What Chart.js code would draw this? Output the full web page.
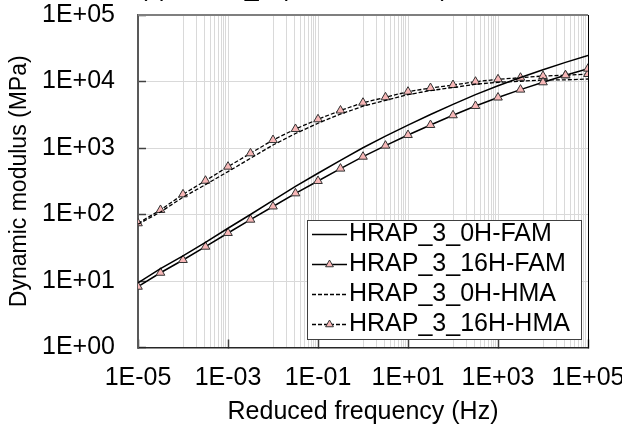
<!DOCTYPE html>
<html>
<head>
<meta charset="utf-8">
<script src="https://cdn.jsdelivr.net/npm/chart.js@4.4.1/dist/chart.umd.min.js"></script>
<style>
    html, body { margin: 0; padding: 0; background: #fff; overflow: hidden; }
    /* canvas sobe 26px para o título ficar cortado como na figura */
    #wrap { position: absolute; left: 0; top: -26px; width: 622px; height: 459px; }
</style>
</head>
<body>
<div id="wrap"><canvas id="chartModulo"></canvas></div>
<script>
const FONT = '"Liberation Sans", Arial, sans-serif';

const frequencias = [1e-5, 3.16e-5, 1e-4, 3.16e-4, 1e-3, 3.16e-3, 1e-2, 3.16e-2, 1e-1, 3.16e-1,
    1, 3.16, 10, 31.6, 100, 316, 1000, 3160, 1e4, 3.16e4, 1e5];

const fam0H = [9.4, 15.3, 23.9, 38.2, 62.1, 100, 163, 264, 417, 653,
    1009, 1507, 2213, 3192, 4539, 6339, 8610, 11510, 15030, 19410, 24720];
const fam16H = [8.2, 13.3, 20.7, 32.8, 52.7, 83.6, 132, 208, 319, 490,
    740, 1084, 1567, 2218, 3105, 4285, 5741, 7551, 9727, 12390, 15600];
const hma0H = [71.3, 109, 182, 281, 441, 700, 1109, 1652, 2355, 3243,
    4246, 5212, 6339, 7311, 8110, 9100, 9727, 10090, 10540, 10590, 10910];
const hma16H = [73.8, 117, 201, 322, 524, 832, 1318, 1932, 2704, 3664,
    4797, 5781, 7031, 7980, 8851, 9931, 10790, 11400, 12100, 12390, 12970];

const seriesNomes = ['HRAP_3_0H-FAM', 'HRAP_3_16H-FAM', 'HRAP_3_0H-HMA', 'HRAP_3_16H-HMA'];

const xTickValues = [1e-5, 1e-3, 1e-1, 1e1, 1e3, 1e5];
const xTickLabels = ['1E-05', '1E-03', '1E-01', '1E+01', '1E+03', '1E+05'];
const xMinorDecades = [1e-4, 1e-2, 1, 1e2, 1e4];
const yTickValues = [1, 10, 100, 1000, 10000, 100000];
const yTickLabels = ['1E+00', '1E+01', '1E+02', '1E+03', '1E+04', '1E+05'];

function mesmoValor(a, b) {
    return Math.abs(Math.log10(a) - Math.log10(b)) < 1e-6;
}

// linhas de grade secundárias (1..9 x década) como no Excel
let xGrade = xTickValues.slice();
xMinorDecades.forEach(d => {
    for (let k = 1; k <= 9; k++) xGrade.push(k * d);
});
xGrade = xGrade.filter((v, i, arr) => arr.findIndex(w => mesmoValor(v, w)) === i).sort((a, b) => a - b);

function pontos(valores) {
    return frequencias.map((f, i) => ({ x: f, y: valores[i] }));
}

const ROSA = '#f7b7b7';

const molduraPlugin = {
    id: 'moldura',
    afterDatasetsDraw(chart) {
        const { ctx, chartArea: a } = chart;
        ctx.save();
        ctx.strokeStyle = '#7f7f7f';
        ctx.lineWidth = 2;
        ctx.beginPath();
        ctx.moveTo(a.left, a.top);
        ctx.lineTo(a.right, a.top);
        ctx.stroke();
        ctx.strokeStyle = '#000';
        ctx.lineWidth = 1;
        ctx.beginPath();
        ctx.moveTo(a.right + 0.5, a.top);
        ctx.lineTo(a.right + 0.5, a.bottom);
        ctx.stroke();
        ctx.restore();
    }
};

function triangulo(ctx, x, y, r) {
    ctx.beginPath();
    ctx.moveTo(x, y - r);
    ctx.lineTo(x + r * 0.866, y + r * 0.5);
    ctx.lineTo(x - r * 0.866, y + r * 0.5);
    ctx.closePath();
    ctx.fill();
    ctx.stroke();
}

const legendaPlugin = {
    id: 'legendaInterna',
    afterDatasetsDraw(chart) {
        const { ctx, chartArea } = chart;
        const w = 274, h = 119;
        const right = chartArea.right - 7;
        const bottom = chartArea.bottom - 9;
        const left = Math.round(right - w);
        const top = Math.round(bottom - h);
        ctx.save();
        ctx.fillStyle = '#fff';
        ctx.fillRect(left, top, w, h);
        ctx.strokeStyle = '#404040';
        ctx.lineWidth = 1;
        ctx.strokeRect(left + 0.5, top + 0.5, w, h);
        chart.data.datasets.forEach((ds, i) => {
            const y = top + 14.5 + i * 30;
            ctx.strokeStyle = '#000';
            ctx.lineWidth = ds.borderWidth;
            ctx.setLineDash(ds.borderDash || []);
            ctx.beginPath();
            ctx.moveTo(left + 5, y);
            ctx.lineTo(left + 40, y);
            ctx.stroke();
            ctx.setLineDash([]);
            if (ds.pointRadius > 0) {
                ctx.fillStyle = ROSA;
                ctx.strokeStyle = '#333';
                ctx.lineWidth = 1;
                triangulo(ctx, left + 22.5, y, 4.5);
            }
            ctx.fillStyle = '#000';
            ctx.font = '25px ' + FONT;
            ctx.textBaseline = 'middle';
            ctx.textAlign = 'left';
            ctx.fillText(ds.label, left + 42, y);
        });
        ctx.restore();
    }
};

const ctx = document.getElementById('chartModulo').getContext('2d');

new Chart(ctx, {
    type: 'line',
    data: {
        datasets: [
            {
                label: seriesNomes[0],
                data: pontos(fam0H),
                borderColor: '#000',
                borderWidth: 1.5,
                pointRadius: 0
            },
            {
                label: seriesNomes[1],
                data: pontos(fam16H),
                borderColor: '#000',
                borderWidth: 1.5,
                pointStyle: 'triangle',
                pointRadius: 5,
                pointBackgroundColor: ROSA,
                pointBorderColor: '#333',
                pointBorderWidth: 1
            },
            {
                label: seriesNomes[2],
                data: pontos(hma0H),
                borderColor: '#000',
                borderWidth: 1.3,
                borderDash: [4, 2],
                pointRadius: 0
            },
            {
                label: seriesNomes[3],
                data: pontos(hma16H),
                borderColor: '#000',
                borderWidth: 1.3,
                borderDash: [4, 2],
                pointStyle: 'triangle',
                pointRadius: 5,
                pointBackgroundColor: ROSA,
                pointBorderColor: '#333',
                pointBorderWidth: 1
            }
        ]
    },
    options: {
        responsive: true,
        maintainAspectRatio: false,
        animation: false,
        events: [],
        layout: { padding: { left: 0, right: 34, top: 0, bottom: 0 } },
        plugins: {
            legend: { display: false },
            tooltip: { enabled: false },
            title: {
                display: true,
                text: '(c) HRAP_3 (FAM vs. HMA)',
                color: '#000',
                font: { family: FONT, size: 25, weight: 'normal' },
                padding: { top: 0, bottom: 11 }
            }
        },
        scales: {
            x: {
                type: 'logarithmic',
                min: 1e-5,
                max: 1e5,
                afterBuildTicks: (s) => { s.ticks = xGrade.map(v => ({ value: v })); },
                afterFit: (s) => { s.height = 85.5; s.paddingLeft = 0; s.paddingRight = 0; },
                ticks: {
                    autoSkip: false,
                    maxRotation: 0,
                    minRotation: 0,
                    padding: 24,
                    color: '#000',
                    font: { family: FONT, size: 25 },
                    callback: (v) => {
                        const i = xTickValues.findIndex(t => mesmoValor(t, v));
                        return i >= 0 ? xTickLabels[i] : '';
                    }
                },
                grid: {
                    color: '#d9d9d9',
                    lineWidth: 1,
                    tickLength: -8,
                    tickWidth: 1.5,
                    tickColor: (c) => (c.tick && xTickValues.some(t => mesmoValor(t, c.tick.value))) ? '#404040' : 'rgba(0,0,0,0)'
                },
                border: { color: '#262626', width: 1.5 },
                title: {
                    display: true,
                    text: 'Reduced frequency (Hz)',
                    color: '#000',
                    font: { family: FONT, size: 25 },
                    padding: { top: 0, bottom: 6 }
                }
            },
            y: {
                type: 'logarithmic',
                min: 1,
                max: 1e5,
                afterBuildTicks: (s) => { s.ticks = yTickValues.map(v => ({ value: v })); },
                afterFit: (s) => { s.width = 138; s.paddingTop = 0; s.paddingBottom = 0; },
                ticks: {
                    padding: 31,
                    color: '#000',
                    font: { family: FONT, size: 25 },
                    callback: (v) => {
                        const i = yTickValues.findIndex(t => mesmoValor(t, v));
                        return i >= 0 ? yTickLabels[i] : '';
                    }
                },
                grid: {
                    color: '#d9d9d9',
                    lineWidth: 1,
                    tickLength: -8,
                    tickWidth: 1.5,
                    tickColor: '#404040'
                },
                border: { color: '#595959', width: 2 },
                title: {
                    display: true,
                    text: 'Dynamic modulus (MPa)',
                    color: '#000',
                    font: { family: FONT, size: 23 },
                    padding: { top: 6, bottom: 0 }
                }
            }
        }
    },
    plugins: [molduraPlugin, legendaPlugin]
});
</script>
</body>
</html>
